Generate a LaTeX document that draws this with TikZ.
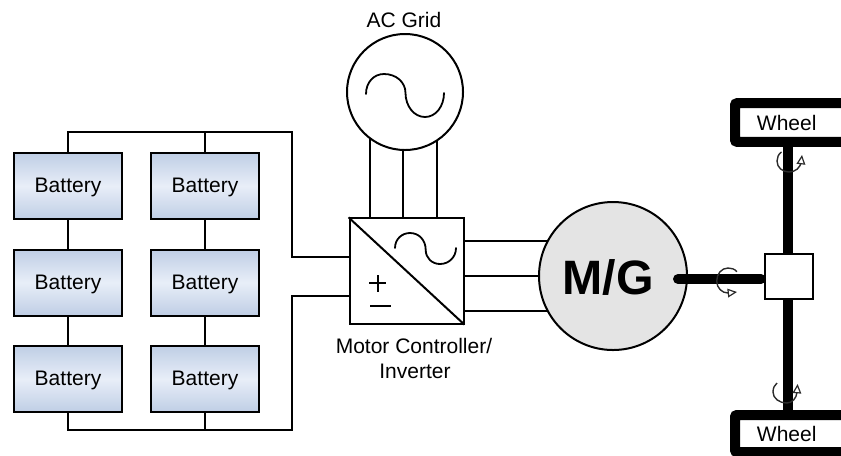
\documentclass[tikz,border=0pt]{standalone}
\usepackage{fontspec}
\setmainfont{Liberation Sans}
\usetikzlibrary{arrows.meta,calc,backgrounds}
\definecolor{battedge}{HTML}{BFCEE5}
\definecolor{battmid}{HTML}{E8EEF8}
\definecolor{mggray}{HTML}{E4E4E4}
\definecolor{rotgray}{HTML}{2B2B2B}
\newcommand{\batttext}{\raisebox{-5pt}[0pt][0pt]{Battery}}
\tikzset{
  wire/.style={draw=black,line width=1.5pt},
  batt/.style={draw=black,line width=1.5pt,rectangle,minimum width=81pt,minimum height=49.5pt,inner sep=0pt,
    top color=battedge,bottom color=battedge,middle color=battmid,font=\fontsize{15.75}{18}\selectfont},
  axle/.style={draw=black,line width=7.5pt},
  wheelrim/.style={draw=black,line width=7.5pt,rounded corners=1.5pt},
  label/.style={inner sep=0pt,font=\fontsize{15.75}{18}\selectfont},
  rot/.style={draw=rotgray,line width=1.05pt,-{Triangle[fill=white,length=7pt,width=6.5pt,line width=.9pt]}},
  sine/.style={draw=black,line width=1.35pt,line cap=round}
}
\begin{document}
\begin{tikzpicture}[x=.75pt,y=-.75pt]
\useasboundingbox (0,0) rectangle (841,455);
% batteries
\foreach \n/\x/\y in {b11/68/186,b21/68/282.5,b31/68/379,b12/205/186,b22/205/282.5,b32/205/379}
  \node[batt] (\n) at (\x,\y) {\batttext};
% inverter, grid, machine
\node[draw=black,line width=1.5pt,fill=white,minimum width=85.5pt,minimum height=79pt,inner sep=0pt,rectangle] (inv) at (406.5,271) {};
\node[draw=black,line width=1.5pt,fill=white,circle,minimum size=87pt,inner sep=0pt] (grid) at (405,92) {};
\node[draw=black,line width=1.5pt,circle,fill=mggray,minimum size=111pt,inner sep=0pt] (mg) at (613,276) {};
\node[inner sep=0pt,font=\fontsize{36.2}{40}\selectfont\bfseries] (mglabel) at (608,277) {M/G};
% bus and wires lie behind the nodes
\coordinate (tr) at (292,132);
\coordinate (br) at (292,430);
\coordinate (invT) at (360,257);
\coordinate (invB) at (360,296);
\coordinate (ga) at (370,240);
\coordinate (gb) at (403,240);
\coordinate (gc) at (437,240);
\coordinate (ma) at (450,241);
\coordinate (mb) at (450,276);
\coordinate (mc) at (450,311);
\begin{pgfonlayer}{background}
\draw[wire] (b11.north) |- (tr) |- (invT);
\draw[wire] (b12.north) -- (b12.north |- tr);
\draw[wire] (b31.south) |- (br) |- (invB);
\draw[wire] (b32.south) -- (b32.south |- br);
\draw[wire] (b11) -- (b21);
\draw[wire] (b21) -- (b31);
\draw[wire] (b12) -- (b22);
\draw[wire] (b22) -- (b32);
\draw[wire] (ga) -- (ga |- grid);
\draw[wire] (gb) -- (gb |- grid);
\draw[wire] (gc) -- (gc |- grid);
\draw[wire] (ma) -- (ma -| mg);
\draw[wire] (mb) -- (mb -| mg);
\draw[wire] (mc) -- (mc -| mg);
\end{pgfonlayer}
% inverter symbols
\draw[wire] (inv.north west) -- (inv.south east);
\draw[sine] (395,248) .. controls (395,239) and (402,233) .. (410,233) .. controls (419,233) and (425.7,240) .. (425.7,250) .. controls (425.7,258) and (432,264) .. (440,264) .. controls (449,264) and (456,257) .. (456,248);
\draw[wire] (369,283) -- (386,283);
\draw[wire] (378,275) -- (378,292);
\draw[wire] (370,306) -- (391,306);
% grid symbol
\draw[sine] (366,94) .. controls (366,82) and (374,74) .. (384,74) .. controls (396,74) and (405.5,82) .. (405.5,93) .. controls (405.5,106) and (414,117) .. (425,117) .. controls (436,117) and (444,106) .. (444,93);
% labels
\node[label] (acl) at (404,20) {AC Grid};
\node[label] (mc1) at (414,346) {Motor Controller/};
\node[label] (mc2) at (415,371.5) {Inverter};
% drivetrain
\node[draw=black,line width=1.5pt,fill=white,rectangle,minimum width=36pt,minimum height=33.75pt,inner sep=0pt] (diff) at (788.7,276.5) {};
\node[wheelrim,rectangle,fill=white,minimum width=86.6pt,minimum height=28.9pt,inner sep=0pt,anchor=west] (wt) at (730,122.5) {};
\node[wheelrim,rectangle,fill=white,minimum width=86.6pt,minimum height=27.75pt,inner sep=0pt,anchor=west] (wb) at (730,433.5) {};
\coordinate (axT) at (788,142);
\coordinate (axB) at (788,415);
\draw[axle] (axT) -- (diff.north -| axT);
\draw[axle] (diff.south -| axT) -- (axB);
\coordinate (sh) at (678,279);
\coordinate (shE) at (761,279);
\draw[axle,line cap=round] (sh) -- (shE);
\node[label] (wtl) at (786.7,123) {Wheel};
\node[label] (wbl) at (786.7,434) {Wheel};
% rotation arrows
\draw[rot] (781.5,152) .. controls (778.5,154) and (777,157.5) .. (777,161) .. controls (777,167.5) and (782.5,172) .. (789,172) .. controls (795,172) and (800.7,168) .. (801.3,161) -- (802,155);
\draw[rot] (777,383) .. controls (774.5,385) and (773,388) .. (773,392) .. controls (773,398.5) and (779.5,403) .. (786.7,403) .. controls (792,403) and (796.5,398.5) .. (797,392) -- (797.6,384);
\draw[rot] (737,271.7) .. controls (734.5,269) and (731.5,268) .. (728,268) .. controls (721.5,268) and (716.7,274) .. (716.7,281) .. controls (716.7,288) and (722,293) .. (728,293) -- (737,292);
\end{tikzpicture}
\end{document}
